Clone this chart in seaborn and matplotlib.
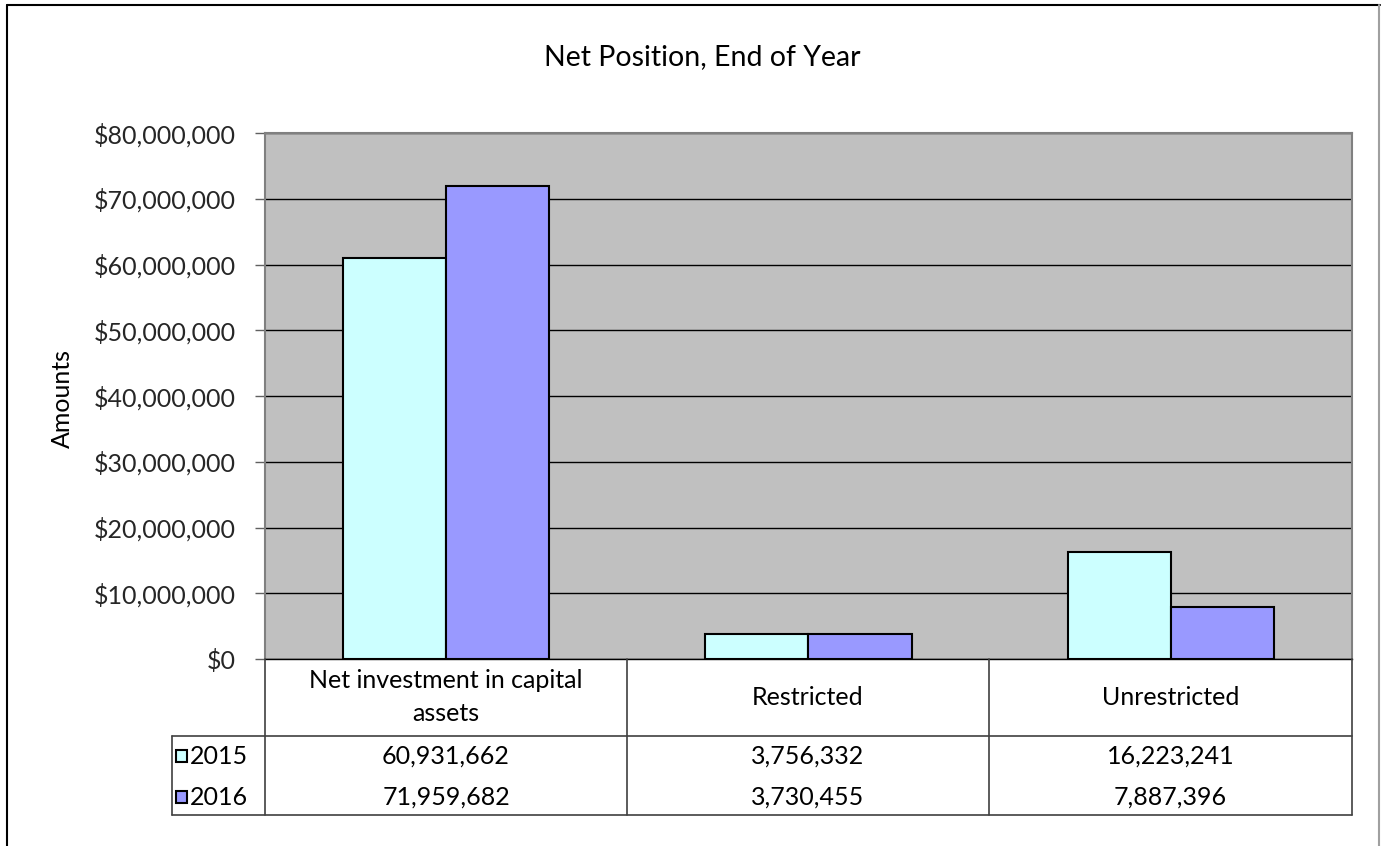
import matplotlib
matplotlib.use("Agg")
import matplotlib.pyplot as plt
from matplotlib.lines import Line2D
from matplotlib.patches import Rectangle
from matplotlib.ticker import FuncFormatter, MultipleLocator
import seaborn as sns
import pandas as pd

categories = ["Net investment in capital assets", "Restricted", "Unrestricted"]
category_labels = ["Net investment in capital\nassets", "Restricted", "Unrestricted"]
years = ["2015", "2016"]
values_2015 = [60931662, 3756332, 16223241]
values_2016 = [71959682, 3730455, 7887396]
colors = ["#CCFFFF", "#9999FF"]

df = pd.DataFrame({
    "category": categories * 2,
    "year": [years[0]] * 3 + [years[1]] * 3,
    "amount": values_2015 + values_2016,
})

sns.set_theme(style="white")
plt.rcParams["font.family"] = ["Lato", "DejaVu Sans"]

W, H = 1383, 846
fig = plt.figure(figsize=(W / 100, H / 100), dpi=100)

def fx(px):
    return px / W

def fy(py):
    return 1 - py / H

FS = 18

left, right, top, bottom = 265, 1352, 133, 659
ax = fig.add_axes([fx(left), fy(bottom), fx(right - left), fy(top) - fy(bottom)])
ax.set_facecolor("#C0C0C0")

sns.barplot(data=df, x="category", y="amount", hue="year", order=categories,
            hue_order=years, palette=colors, saturation=1, width=0.57,
            edgecolor="black", linewidth=1.5, ax=ax, legend=False, zorder=3)

ax.set_xlim(-0.5, 2.5)
ax.set_ylim(0, 80_000_000)
ax.yaxis.set_major_locator(MultipleLocator(10_000_000))
ax.yaxis.set_major_formatter(FuncFormatter(lambda v, _: f"${v:,.0f}"))
ax.grid(axis="y", color="black", linewidth=1.0, zorder=1)
ax.set_axisbelow(True)
ax.set_xticks([])
ax.set_xlabel("")
ax.set_ylabel("")
ax.tick_params(axis="y", which="major", direction="out", length=7, width=1,
               color="#606060", labelsize=FS, pad=14, left=True)
for side, sp in ax.spines.items():
    sp.set_color("#808080")
    sp.set_linewidth(1.5)
ax.spines["bottom"].set_color("black")
ax.spines["bottom"].set_linewidth(1)

# title and axis label
fig.text(fx(702), fy(57), "Net Position, End of Year", ha="center", va="center",
         fontsize=20.5, color="black")
fig.text(fx(62), fy(398), "Amounts", ha="center", va="center", rotation=90,
         fontsize=FS, color="black")

# data table beneath the plot
col_edges = [265, 627, 989, 1352]
row_top, row_mid, row_bot = 659, 736, 815
label_left = 172
line_kw = dict(color="#404040", linewidth=1.2, transform=fig.transFigure)
for x in col_edges:
    fig.add_artist(Line2D([fx(x), fx(x)], [fy(row_top), fy(row_bot)], **line_kw))
fig.add_artist(Line2D([fx(label_left), fx(label_left)], [fy(row_mid), fy(row_bot)], **line_kw))
fig.add_artist(Line2D([fx(label_left), fx(right)], [fy(row_mid), fy(row_mid)], **line_kw))
fig.add_artist(Line2D([fx(label_left), fx(right)], [fy(row_bot), fy(row_bot)], **line_kw))

row_ys = [756, 797]
series = [values_2015, values_2016]
for i, lab in enumerate(category_labels):
    cx = (col_edges[i] + col_edges[i + 1]) / 2
    fig.text(fx(cx), fy(697), lab, ha="center", va="center", fontsize=FS,
             linespacing=1.5, color="black")
    for ry, vals in zip(row_ys, series):
        fig.text(fx(cx), fy(ry), f"{vals[i]:,}", ha="center", va="center",
                 fontsize=FS, color="black")

for ry, yr, c in zip(row_ys, years, colors):
    fig.add_artist(Rectangle((fx(176), fy(ry + 6)), fx(11), fy(ry - 6) - fy(ry + 6),
                             facecolor=c, edgecolor="black", linewidth=1.5,
                             transform=fig.transFigure))
    fig.text(fx(190), fy(ry), yr, ha="left", va="center", fontsize=FS, color="black")

# chart frame
frame_kw = dict(transform=fig.transFigure, linewidth=1.5)
fig.add_artist(Line2D([fx(7), fx(7)], [fy(5), 0], color="black", **frame_kw))
fig.add_artist(Line2D([fx(7), fx(1380)], [fy(5), fy(5)], color="black", **frame_kw))
fig.add_artist(Line2D([fx(1379), fx(1379)], [fy(5), 0], color="#A0A0A0", **frame_kw))

fig.savefig("out.png", dpi=100, facecolor="white")
